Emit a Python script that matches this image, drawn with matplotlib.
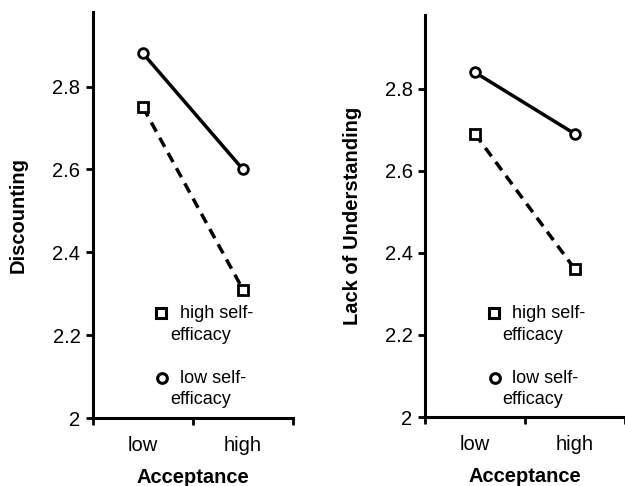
import matplotlib
matplotlib.use("Agg")
import matplotlib.pyplot as plt

plt.rcParams['font.family'] = ['Liberation Sans', 'DejaVu Sans']

categories = ["low", "high"]
disc_high_se = [2.75, 2.31]
disc_low_se = [2.88, 2.60]
lou_high_se = [2.69, 2.36]
lou_low_se = [2.84, 2.69]
yticks = [2, 2.2, 2.4, 2.6, 2.8]
ytick_labels = ["2", "2.2", "2.4", "2.6", "2.8"]
panels = [
    ("Discounting", disc_high_se, disc_low_se),
    ("Lack of Understanding", lou_high_se, lou_low_se),
]

W, H = 625, 486
fig = plt.figure(figsize=(W / 100, H / 100), dpi=100)

boxes = [(93, 12, 293, 418), (425, 15, 625, 417)]
legend_pos = [(161, 180, 170), (494, 512, 502)]
ylab_x = [18, 352]

def fx(px):
    return px / W

def fy(py):
    return 1 - py / H

for i, (ylabel, hi, lo) in enumerate(panels):
    x0, y0, x1, y1 = boxes[i]
    ax = fig.add_axes([fx(x0), fy(y1), (x1 - x0) / W, (y1 - y0) / H])
    xs = [0.5, 1.5]
    ax.plot(xs, lo, color='black', lw=2.5, ls='-', marker='o', ms=7,
            mfc='white', mec='black', mew=2, zorder=3)
    ax.plot(xs, hi, color='black', lw=2.5, ls=(0, (3, 2)), marker='s', ms=7,
            mfc='white', mec='black', mew=2, zorder=3)
    ax.set_xlim(0, 2)
    ax.set_ylim(2, 2.98)
    ax.set_yticks(yticks)
    ax.set_yticklabels(ytick_labels, fontsize=14.5)
    ax.set_xticks([0, 1, 2])
    ax.set_xticklabels([])
    ax.set_xticks(xs, minor=True)
    ax.set_xticklabels(categories, minor=True, fontsize=14.5)
    ax.tick_params(axis='x', which='minor', length=0, pad=13)
    ax.tick_params(axis='x', which='major', length=5, width=2, direction='out')
    ax.tick_params(axis='y', length=5, width=2, direction='out', pad=4)
    for s in ['top', 'right']:
        ax.spines[s].set_visible(False)
    for s in ['left', 'bottom']:
        ax.spines[s].set_linewidth(2.2)
    ax.set_xlabel("Acceptance", fontsize=14.5, fontweight='bold', labelpad=9)
    ax.patch.set_alpha(0)

    cy = (y0 + y1) / 2
    fig.text(fx(ylab_x[i]), fy(cy), ylabel, rotation=90, ha='center', va='center',
             fontsize=14.5, fontweight='bold')

    mx, tx1, tx2 = legend_pos[i]
    # legend entries
    fig.lines.append(plt.Line2D([fx(mx)], [fy(313)], transform=fig.transFigure,
                                marker='s', ms=7, mfc='white', mec='black', mew=2.2, ls='none'))
    fig.text(fx(tx1), fy(314), "high self-", ha='left', va='center', fontsize=13)
    fig.text(fx(tx2), fy(335), "efficacy", ha='left', va='center', fontsize=13)
    fig.lines.append(plt.Line2D([fx(mx + 1)], [fy(378)], transform=fig.transFigure,
                                marker='o', ms=7, mfc='white', mec='black', mew=2.2, ls='none'))
    fig.text(fx(tx1), fy(378), "low self-", ha='left', va='center', fontsize=13)
    fig.text(fx(tx2), fy(399), "efficacy", ha='left', va='center', fontsize=13)

fig.savefig("out.png", dpi=100)
